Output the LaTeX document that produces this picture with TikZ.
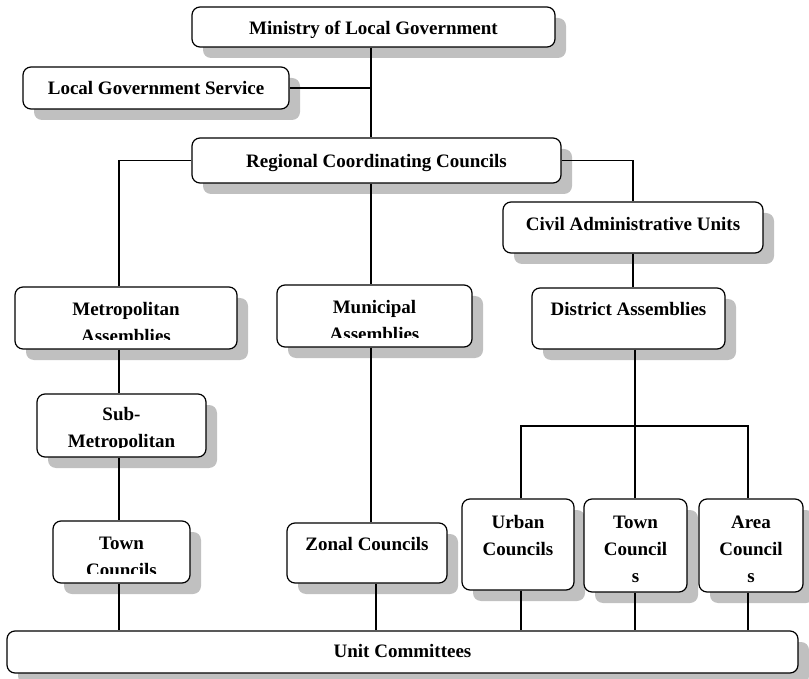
\documentclass[tikz,border=0pt]{standalone}
\usepackage{fontspec}
\setmainfont{Liberation Serif}
\usetikzlibrary{shadows}
\definecolor{shgray}{RGB}{192,192,192}
\tikzset{
  orgbox/.style={draw=black, line width=1.2pt, fill=white, rounded corners=8pt, inner sep=0pt,
    drop shadow={shadow xshift=11pt, shadow yshift=-11pt, fill=shgray, opacity=1}},
  lbl/.style={anchor=north, inner sep=0pt, align=center, font=\fontsize{19}{27}\selectfont\bfseries},
  conn/.style={line width=1.2pt, draw=black}
}
\newcommand\obox[5]{\node[orgbox, minimum width={(#4-#2)*1pt}, minimum height={(#5-#3)*1pt}] (#1) at ({(#2+#4)/2},{(#3+#5)/2}) {};}
\newcommand\otext[3]{\begin{scope}
  \clip (#1.north west) rectangle ([yshift=10pt]#1.south east);
  \node[lbl] (#1-t) at ([yshift={(14-#2)*1pt}]#1.north) {\rule{0pt}{14pt}#3};
\end{scope}}
\begin{document}
\begin{tikzpicture}[x=1pt,y=-1pt]
\useasboundingbox (0,0) rectangle (809,679);
% boxes
\obox{min}{192}{7}{555}{47}
\obox{lgs}{23}{67}{289}{109}
\obox{rcc}{192}{138}{561}{183}
\obox{cau}{503}{202}{763}{253}
\obox{da}{532}{288}{725}{349}
\obox{metro}{15}{287}{237}{349}
\obox{muni}{277}{285}{472}{347}
\obox{sub}{37}{394}{206}{457}
\obox{townL}{53}{521}{190}{583}
\obox{zonal}{287}{523}{447}{583}
\obox{urban}{462}{499}{574}{590}
\obox{townR}{584}{499}{687}{592}
\obox{area}{699}{499}{803}{592}
\obox{unit}{7}{631}{798}{673}
% connectors
\coordinate (spine) at (371,0);
\coordinate (lspine) at (119,0);
\coordinate (zspine) at (376,0);
\coordinate (bus) at (635,426);
\coordinate (bl) at (521,426);
\coordinate (br) at (748,426);
\draw[conn] (spine |- min.south) -- (spine |- rcc.north);
\draw[conn] (lgs.east) -- (lgs.east -| spine);
\draw[conn] (rcc.west) -| (lspine |- metro.north);
\draw[conn] (rcc.east) -| (cau.north);
\draw[conn] (spine |- rcc.south) -- (spine |- muni.north);
\draw[conn] (lspine |- metro.south) -- (lspine |- sub.north);
\draw[conn] (lspine |- sub.south) -- (lspine |- townL.north);
\draw[conn] (lspine |- townL.south) -- (lspine |- unit.north);
\draw[conn] (spine |- muni.south) -- (spine |- zonal.north);
\draw[conn] (zspine |- zonal.south) -- (zspine |- unit.north);
\draw[conn] (cau.south) -- (cau.south |- da.north);
\draw[conn] (bus |- da.south) -- (bus);
\draw[conn] (bl |- urban.north) -- (bl) -- (br) -- (br |- area.north);
\draw[conn] (bus) -- (bus |- townR.north);
\draw[conn] (bl |- urban.south) -- (bl |- unit.north);
\draw[conn] (bus |- townR.south) -- (bus |- unit.north);
\draw[conn] (br |- area.south) -- (br |- unit.north);
% texts
\otext{min}{28}{Ministry of Local Government}
\otext{lgs}{28}{Local Government Service}
\otext{rcc}{30}{Regional Coordinating Councils}
\otext{cau}{29}{Civil Administrative Units}
\otext{da}{28}{District Assemblies}
\otext{metro}{29}{Metropolitan\\Assemblies}
\otext{muni}{29}{Municipal\\Assemblies}
\otext{sub}{27}{Sub-\\Metropolitan}
\otext{townL}{29}{Town\\Councils}
\otext{zonal}{28}{Zonal Councils}
\otext{urban}{30}{Urban\\Councils}
\otext{townR}{30}{Town\\Council\\s}
\otext{area}{30}{Area\\Council\\s}
\otext{unit}{27}{Unit Committees}
\end{tikzpicture}
\end{document}
